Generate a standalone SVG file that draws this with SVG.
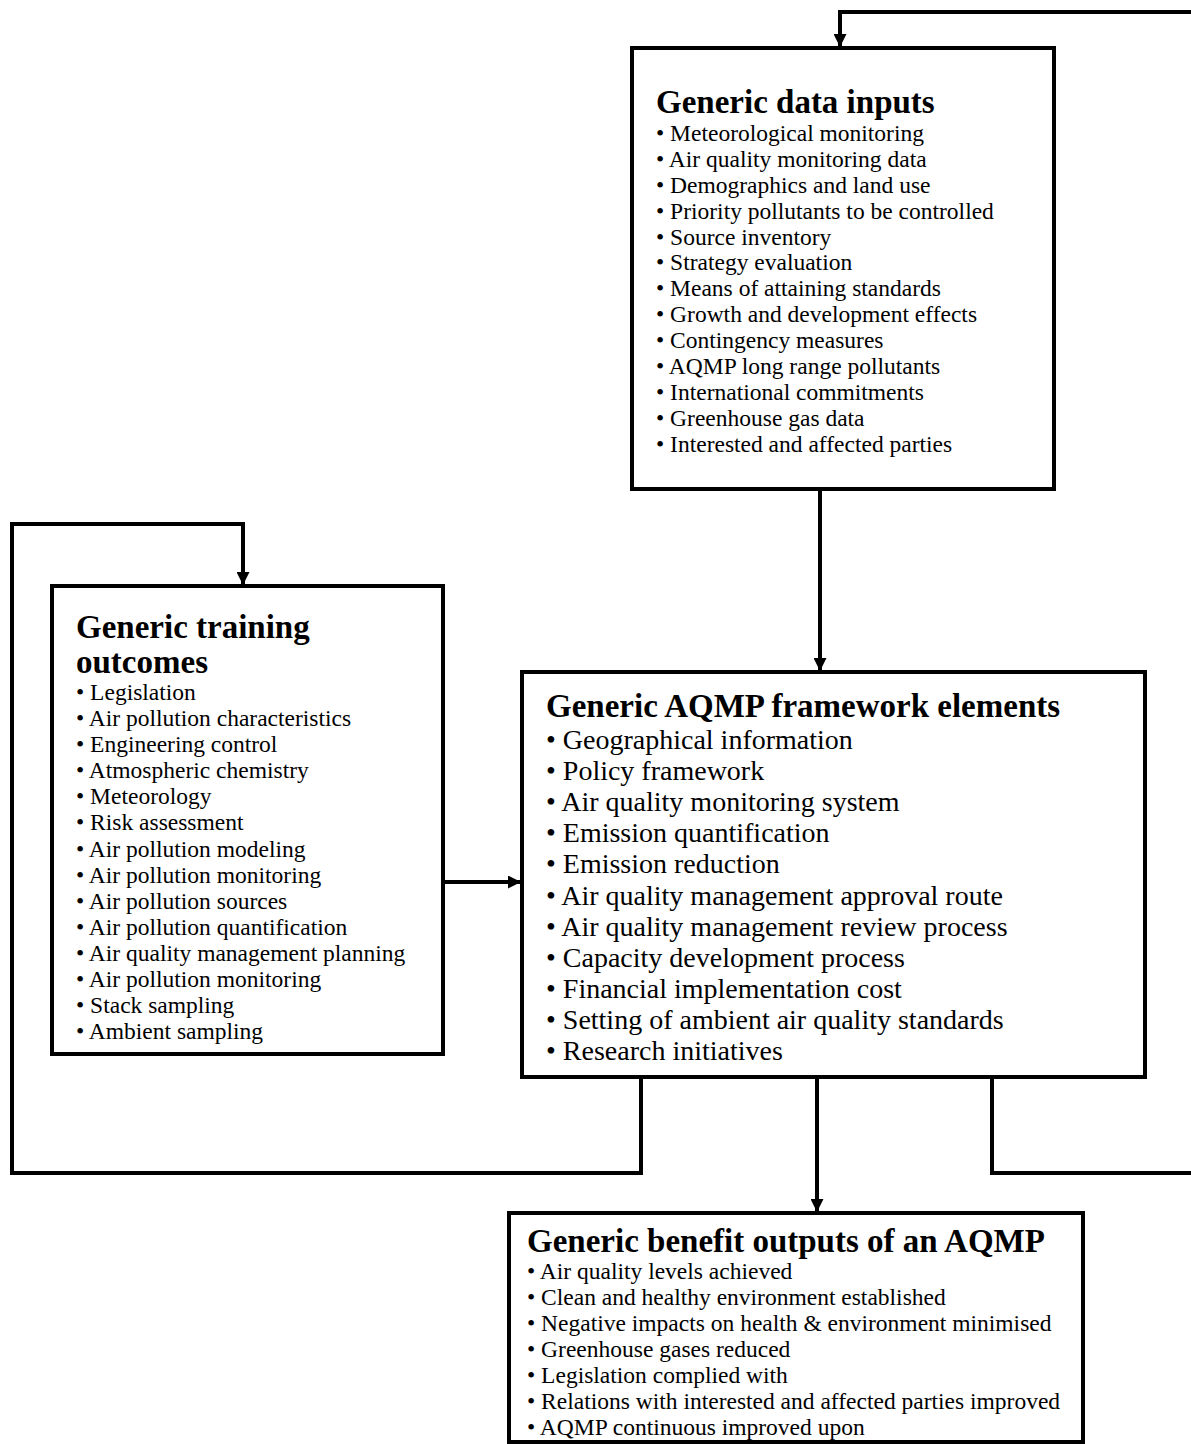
<svg xmlns="http://www.w3.org/2000/svg" width="1191" height="1444" viewBox="0 0 1191 1444">
<defs>
<marker id="arr" markerWidth="13" markerHeight="13" viewBox="0 0 13 13" refX="12" refY="6.5" orient="auto" markerUnits="userSpaceOnUse">
<path d="M0,0 L13,6.5 L0,13 Z" fill="#000"/>
</marker>
<style>
.box{fill:#fff;stroke:#000;stroke-width:4}
.conn{fill:none;stroke:#000;stroke-width:4}
.title{font-family:"Liberation Serif","Times New Roman",serif;font-weight:bold;font-size:33px;fill:#000}
.item{font-family:"Liberation Serif","Times New Roman",serif;font-size:23.5px;fill:#000}
.item2{font-family:"Liberation Serif","Times New Roman",serif;font-size:28px;fill:#000}
</style>
</defs>
<rect width="1191" height="1444" fill="#fff"/>
<g id="connectors">
<path class="conn" d="M1191,12 L840,12 L840,46" marker-end="url(#arr)"/>
<path class="conn" d="M820,490 L820,670" marker-end="url(#arr)"/>
<path class="conn" d="M641,1077 L641,1173 L12,1173 L12,524 L243,524 L243,584" marker-end="url(#arr)"/>
<path class="conn" d="M443,882 L520,882" marker-end="url(#arr)"/>
<path class="conn" d="M817,1077 L817,1211" marker-end="url(#arr)"/>
<path class="conn" d="M992,1077 L992,1173 L1191,1173"/>
</g>
<g id="data-inputs">
<rect class="box" x="632" y="48" width="422" height="441"/>
<text class="title" x="656" y="113">Generic data inputs</text>
<text class="item" x="656" y="141">• Meteorological monitoring</text>
<text class="item" x="656" y="167">• Air quality monitoring data</text>
<text class="item" x="656" y="193">• Demographics and land use</text>
<text class="item" x="656" y="219">• Priority pollutants to be controlled</text>
<text class="item" x="656" y="245">• Source inventory</text>
<text class="item" x="656" y="270">• Strategy evaluation</text>
<text class="item" x="656" y="296">• Means of attaining standards</text>
<text class="item" x="656" y="322">• Growth and development effects</text>
<text class="item" x="656" y="348">• Contingency measures</text>
<text class="item" x="656" y="374">• AQMP long range pollutants</text>
<text class="item" x="656" y="400">• International commitments</text>
<text class="item" x="656" y="426">• Greenhouse gas data</text>
<text class="item" x="656" y="452">• Interested and affected parties</text>
</g>
<g id="training-outcomes">
<rect class="box" x="52" y="586" width="391" height="468"/>
<text class="title" x="76" y="638">Generic training</text>
<text class="title" x="76" y="673">outcomes</text>
<text class="item" x="76" y="700">• Legislation</text>
<text class="item" x="76" y="726">• Air pollution characteristics</text>
<text class="item" x="76" y="752">• Engineering control</text>
<text class="item" x="76" y="778">• Atmospheric chemistry</text>
<text class="item" x="76" y="804">• Meteorology</text>
<text class="item" x="76" y="830">• Risk assessment</text>
<text class="item" x="76" y="857">• Air pollution modeling</text>
<text class="item" x="76" y="883">• Air pollution monitoring</text>
<text class="item" x="76" y="909">• Air pollution sources</text>
<text class="item" x="76" y="935">• Air pollution quantification</text>
<text class="item" x="76" y="961">• Air quality management planning</text>
<text class="item" x="76" y="987">• Air pollution monitoring</text>
<text class="item" x="76" y="1013">• Stack sampling</text>
<text class="item" x="76" y="1039">• Ambient sampling</text>
</g>
<g id="aqmp-framework">
<rect class="box" x="522" y="672" width="623" height="405"/>
<text class="title" x="546" y="717">Generic AQMP framework elements</text>
<text class="item2" x="546" y="749">• Geographical information</text>
<text class="item2" x="546" y="780">• Policy framework</text>
<text class="item2" x="546" y="811">• Air quality monitoring system</text>
<text class="item2" x="546" y="842">• Emission quantification</text>
<text class="item2" x="546" y="873">• Emission reduction</text>
<text class="item2" x="546" y="905">• Air quality management approval route</text>
<text class="item2" x="546" y="936">• Air quality management review process</text>
<text class="item2" x="546" y="967">• Capacity development process</text>
<text class="item2" x="546" y="998">• Financial implementation cost</text>
<text class="item2" x="546" y="1029">• Setting of ambient air quality standards</text>
<text class="item2" x="546" y="1060">• Research initiatives</text>
</g>
<g id="benefit-outputs">
<rect class="box" x="509" y="1213" width="574" height="229"/>
<text class="title" x="527" y="1252">Generic benefit outputs of an AQMP</text>
<text class="item" x="527" y="1279">• Air quality levels achieved</text>
<text class="item" x="527" y="1305">• Clean and healthy environment established</text>
<text class="item" x="527" y="1331">• Negative impacts on health &amp; environment minimised</text>
<text class="item" x="527" y="1357">• Greenhouse gases reduced</text>
<text class="item" x="527" y="1383">• Legislation complied with</text>
<text class="item" x="527" y="1409">• Relations with interested and affected parties improved</text>
<text class="item" x="527" y="1435">• AQMP continuous improved upon</text>
</g>
</svg>
